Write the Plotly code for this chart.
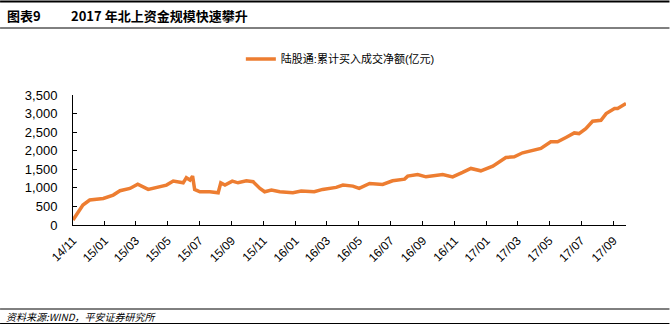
import plotly.graph_objects as go

# 陆股通累计买入成交净额（亿元）
dates = [
    "2014-11-17", "2014-12-06", "2014-12-19", "2015-01-14", "2015-02-02", "2015-02-15",
    "2015-03-06", "2015-03-21", "2015-04-10", "2015-04-26", "2015-05-15", "2015-05-28",
    "2015-06-16", "2015-06-22", "2015-06-29", "2015-07-04", "2015-07-08", "2015-07-18",
    "2015-08-06", "2015-08-22", "2015-08-27", "2015-09-04", "2015-09-18", "2015-09-29",
    "2015-10-15", "2015-10-28", "2015-11-10", "2015-11-19", "2015-12-02", "2015-12-18",
    "2016-01-12", "2016-01-28", "2016-02-22", "2016-03-09", "2016-04-04", "2016-04-17",
    "2016-05-06", "2016-05-18", "2016-06-07", "2016-07-02", "2016-07-21", "2016-08-13",
    "2016-08-19", "2016-09-07", "2016-09-23", "2016-10-25", "2016-11-13", "2016-12-02",
    "2016-12-18", "2017-01-06", "2017-01-29", "2017-02-23", "2017-03-11", "2017-03-27",
    "2017-04-15", "2017-05-01", "2017-05-20", "2017-06-02", "2017-06-18", "2017-07-04",
    "2017-07-13", "2017-07-26", "2017-08-08", "2017-08-24", "2017-09-03", "2017-09-19",
    "2017-09-25", "2017-10-11",
]
net_buy = [
    134, 537, 672, 716, 806, 922,
    985, 1101, 958, 1012, 1074, 1182,
    1136, 1271, 1209, 1316, 958, 895,
    895, 868, 1136, 1074, 1182, 1136,
    1190, 1164, 985, 895, 940, 895,
    868, 913, 895, 958, 1012, 1074,
    1047, 985, 1119, 1092, 1190, 1235,
    1316, 1361, 1297, 1361, 1297, 1415,
    1523, 1459, 1585, 1818, 1836, 1944,
    1997, 2062, 2240, 2240, 2357, 2479,
    2462, 2596, 2793, 2820, 3000, 3134,
    3134, 3269,
]

tick_dates = [
    "2014-11-17", "2015-01-17", "2015-03-17", "2015-05-17", "2015-07-17", "2015-09-17",
    "2015-11-17", "2016-01-17", "2016-03-17", "2016-05-17", "2016-07-17", "2016-09-17",
    "2016-11-17", "2017-01-17", "2017-03-17", "2017-05-17", "2017-07-17", "2017-09-17",
]
tick_labels = [
    "14/11", "15/01", "15/03", "15/05", "15/07", "15/09", "15/11", "16/01", "16/03",
    "16/05", "16/07", "16/09", "16/11", "17/01", "17/03", "17/05", "17/07", "17/09",
]
y_ticks = [0, 500, 1000, 1500, 2000, 2500, 3000, 3500]
y_labels = ["0", "500", "1,000", "1,500", "2,000", "2,500", "3,000", "3,500"]

series_name = "陆股通:累计买入成交净额(亿元)"
title_no = "图表9"
title_text = "2017 年北上资金规模快速攀升"
source_text = "资料来源:WIND，平安证券研究所"

W, H = 670, 327
L, R, T, B = 73, 626.5, 95, 225
ORANGE = "#ED7D31"
CJK = "Noto Sans CJK SC"
LAT = "Liberation Sans, Noto Sans CJK SC"


def px(x):
    return (x - L) / (R - L)


def py(y):
    return (B - y) / (B - T)


fig = go.Figure()
fig.add_trace(go.Scatter(
    x=dates, y=net_buy, mode="lines", name=series_name,
    line=dict(color=ORANGE, width=3.5),
))

fig.update_layout(
    width=W, height=H,
    margin=dict(l=L, r=W - R, t=T, b=H - B),
    paper_bgcolor="white", plot_bgcolor="white",
    showlegend=True,
    legend=dict(
        orientation="h", x=px(241), y=py(59), xanchor="left", yanchor="middle",
        font=dict(family=LAT, size=11, color="#000"),
        bgcolor="rgba(0,0,0,0)", itemwidth=30,
    ),
    xaxis=dict(
        type="date", range=["2014-11-17", "2017-10-11"],
        tickmode="array", tickvals=tick_dates, ticktext=tick_labels,
        tickangle=-45, tickfont=dict(family=LAT, size=12, color="#000"),
        ticks="inside", ticklen=4, tickcolor="#000", tickwidth=1,
        showline=True, linecolor="#000", linewidth=1,
        showgrid=False, zeroline=False, ticklabelstandoff=3,
    ),
    yaxis=dict(
        range=[0, 3500], tickmode="array", tickvals=y_ticks, ticktext=y_labels,
        tickfont=dict(family=LAT, size=13, color="#000"),
        ticks="inside", ticklen=4, tickcolor="#000", tickwidth=1,
        showline=True, linecolor="#000", linewidth=1,
        showgrid=False, zeroline=False, ticklabelstandoff=12,
    ),
)

# header and footer rules
for y, w in [(1.5, 2), (28, 1), (309, 1), (323.5, 1)]:
    fig.add_shape(type="line", xref="paper", yref="paper",
                  x0=px(0), x1=px(W), y0=py(y), y1=py(y),
                  line=dict(color="#000", width=w))

fig.add_annotation(xref="paper", yref="paper", x=px(5), y=py(15),
                   xanchor="left", yanchor="middle", showarrow=False,
                   text="<b>" + title_no + "</b>",
                   font=dict(family=CJK, size=13, color="#000"))
fig.add_annotation(xref="paper", yref="paper", x=px(69), y=py(15),
                   xanchor="left", yanchor="middle", showarrow=False,
                   text="<b>" + title_text + "</b>",
                   font=dict(family=CJK, size=13, color="#000"))
fig.add_annotation(xref="paper", yref="paper", x=px(4), y=py(316),
                   xanchor="left", yanchor="middle", showarrow=False,
                   text="<i>" + source_text + "</i>",
                   font=dict(family=CJK, size=10, color="#000"))

fig.write_html("out.html")
